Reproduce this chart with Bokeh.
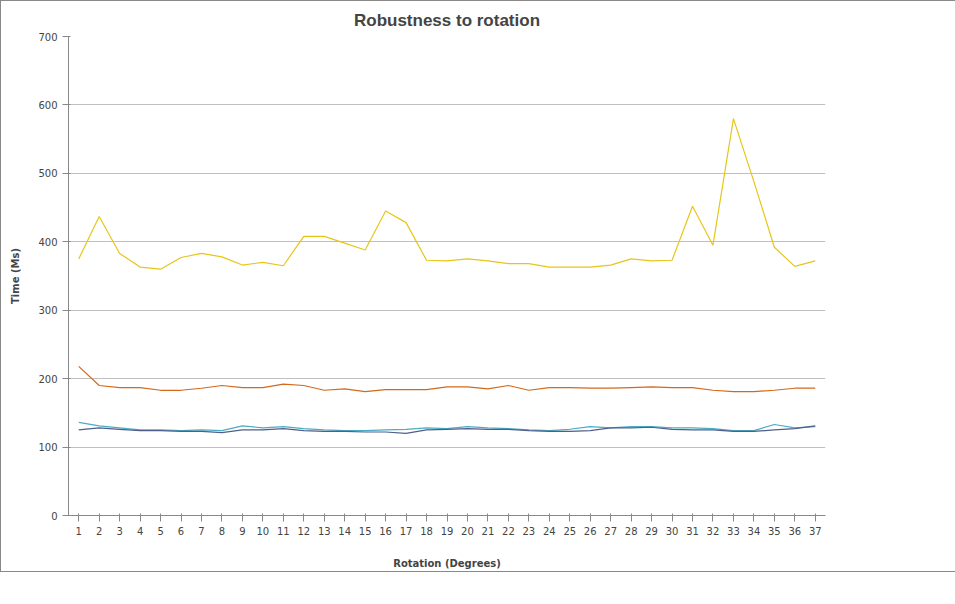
from bokeh.plotting import figure
from bokeh.models import Legend, FixedTicker
from bokeh.embed import file_html
from bokeh.resources import INLINE

rotation = list(range(1, 38))
orb_100 = [136, 131, 128, 125, 125, 124, 125, 124, 131, 128, 130, 127, 125, 124, 124, 125, 126, 128, 127,
           130, 128, 127, 125, 124, 126, 130, 128, 130, 130, 128, 128, 127, 124, 124, 133, 128, 130]
orb_1000 = [375, 437, 383, 363, 360, 377, 383, 378, 366, 370, 365, 408, 408, 398, 388, 445, 428, 373, 372,
            375, 372, 368, 368, 363, 363, 363, 366, 375, 372, 373, 452, 395, 580, 488, 392, 364, 372]
orb_500 = [218, 190, 187, 187, 183, 183, 186, 190, 187, 187, 192, 190, 183, 185, 181, 184, 184, 184, 188,
           188, 185, 190, 183, 187, 187, 186, 186, 187, 188, 187, 187, 183, 181, 181, 183, 186, 186]
orb_15 = [125, 128, 126, 124, 124, 123, 123, 121, 125, 125, 127, 124, 123, 123, 122, 122, 120, 125, 126,
          127, 126, 126, 124, 123, 123, 124, 128, 128, 129, 126, 125, 125, 123, 123, 125, 127, 131]

p = figure(frame_width=757, frame_height=479, output_backend="svg", toolbar_location=None,
           x_range=(0.5, 37.5), y_range=(0, 700), title="Robustness to rotation",
           min_border_left=67, min_border_right=10, min_border_top=10, min_border_bottom=10)
p.outline_line_color = None
p.styles = {"border": "1px solid #888888"}
p.title.align = "center"
p.title.text_font = "Liberation Sans"
p.title.text_font_size = "17px"
p.title.text_font_style = "bold"
p.title.standoff = 14

font = "DejaVu Sans"
p.xaxis.axis_label = "Rotation (Degrees)"
p.yaxis.axis_label = "Time (Ms)"
for ax in (p.xaxis, p.yaxis):
    ax.axis_label_text_font = font
    ax.axis_label_text_font_size = "10px"
    ax.axis_label_text_font_style = "bold"
    ax.major_label_text_font = font
    ax.major_label_text_font_size = "10px"
    ax.axis_line_color = "#888888"
    ax.major_tick_line_color = "#888888"
    ax.minor_tick_line_color = None
p.xaxis.axis_label_standoff = 20
p.yaxis.axis_label_standoff = 14
p.xaxis.ticker = FixedTicker(ticks=rotation)
p.yaxis.ticker = FixedTicker(ticks=list(range(0, 701, 100)))
p.xgrid.grid_line_color = None
p.ygrid.grid_line_color = "#c0c0c0"

r1 = p.line(rotation, orb_100, color="#4bacc6", line_width=1.2)
r2 = p.line(rotation, orb_1000, color="#e6c619", line_width=1.2)
r3 = p.line(rotation, orb_500, color="#d2691e", line_width=1.2)
r4 = p.line(rotation, orb_15, color="#4f5f8a", line_width=1.2)

legend = Legend(items=[("ORB-100", [r1]), ("ORB-1000", [r2]), ("ORB-500", [r3]), ("ORB-15", [r4])],
                location="center", border_line_color=None, label_text_font=font,
                label_text_font_size="10px", glyph_width=25, spacing=6, margin=15)
p.add_layout(legend, "right")

open("out.html", "w").write(file_html(p, INLINE))
